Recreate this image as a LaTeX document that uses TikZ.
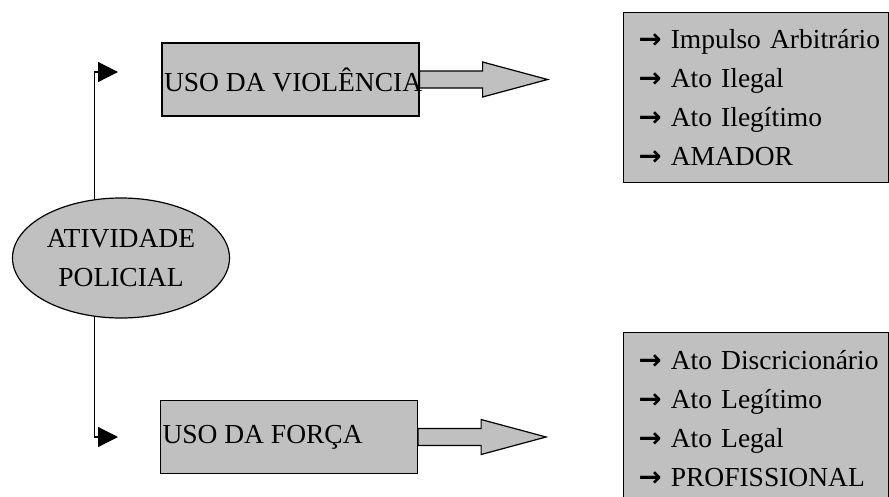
\documentclass[tikz,border=0pt]{standalone}
\usepackage{fontspec}
\setmainfont{Liberation Serif}
\newfontfamily\setas{DejaVu Sans}
\usetikzlibrary{shapes.geometric,arrows.meta,backgrounds}
\definecolor{cinza}{RGB}{192,192,192}
\newcommand{\topico}[1]{\makebox[235pt][l]{{\setas\bfseries →}\ #1}}
\newcommand{\rotulo}[1]{\makebox[253pt][l]{#1}}
\begin{document}
\begin{tikzpicture}[x=1pt,y=-1pt,
		font=\fontsize{27.5}{38.7}\selectfont,
		contorno/.style={draw=black,line width=1.2pt,fill=cinza},
		caixa/.style={contorno,minimum height=73pt,inner xsep=2pt},
		lista/.style={contorno,anchor=north west,minimum width=265pt,text width=235pt,inner xsep=15pt,align=left},
		ligacao/.style={line width=1.2pt,-{Triangle[length=20pt,width=20pt]}},
		bloco/.style={contorno,line join=miter}]
			\useasboundingbox (0,0) rectangle (889,496);
			
			\node[contorno,ellipse,minimum width=217pt,minimum height=120pt,inner sep=0pt,align=center] (ativ) at (121,258) {ATIVIDADE\\POLICIAL};
			
			\node[caixa] (violencia) at (290.5,79.5) {\rotulo{USO DA VIOLÊNCIA}};
			\node[caixa] (forca) at (289,437) {\rotulo{USO DA FORÇA}};
			
			\node[lista,minimum height=170pt] (listaV) at (623,12) {\topico{Impulso Arbitrário}\\\topico{Ato Ilegal}\\\topico{Ato Ilegítimo}\\\topico{AMADOR}};
			\node[lista,minimum height=172pt] (listaF) at (623,332) {\topico{Ato Discricionário}\\\topico{Ato Legítimo}\\\topico{Ato Legal}\\\topico{PROFISSIONAL}};
			
			\coordinate (pv) at (118,72);
			\coordinate (pf) at (118,437);
			
			\draw[ligacao] (ativ.114) |- (pv);
			\draw[ligacao] (ativ.246) |- (pf);
			
			\begin{scope}[on background layer]
			\draw[bloco] ([yshift=8.5pt]violencia.east) -- ++(63,0) -- ++(0,-9) -- ++(65,17.5) -- ++(-65,17.5) -- ++(0,-9) -- ++(-63,0) -- cycle;
			\draw[bloco] ([yshift=8.5pt]forca.east) -- ++(63,0) -- ++(0,-9) -- ++(65,17.5) -- ++(-65,17.5) -- ++(0,-9) -- ++(-63,0) -- cycle;
			\end{scope}
		\end{tikzpicture}
\end{document}
